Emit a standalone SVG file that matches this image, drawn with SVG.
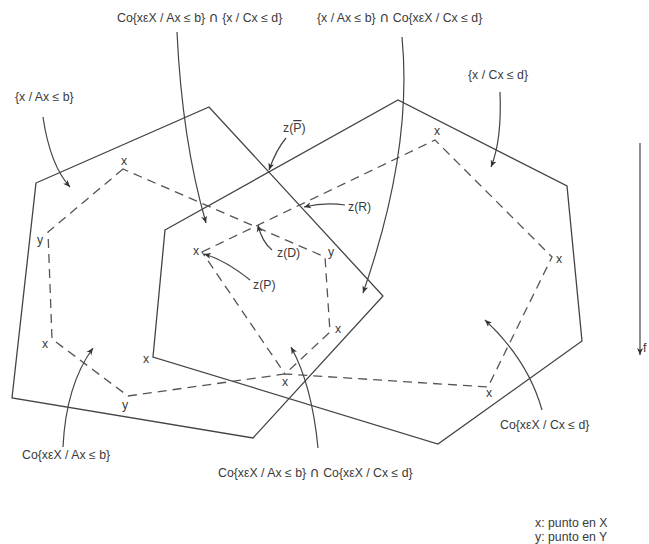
<svg xmlns="http://www.w3.org/2000/svg" width="649" height="544" viewBox="0 0 649 544">
<style>
text{font-family:"Liberation Sans",Arial,sans-serif;font-size:12.3px;fill:#3a3a3a}
.v{text-anchor:middle}
.cap{font-family:"DejaVu Sans",sans-serif;font-size:14px}
.poly{fill:none;stroke:#444;stroke-width:1.3}
.dash{fill:none;stroke:#555;stroke-width:1.3;stroke-dasharray:9,6}
.arr{fill:none;stroke:#444;stroke-width:1.2;marker-end:url(#ah)}
</style>
<defs>
<marker id="ah" markerWidth="8" markerHeight="8" refX="7" refY="4" orient="auto" markerUnits="userSpaceOnUse">
<path d="M0,1 L7,4 L0,7 L2,4 Z" fill="#333"/>
</marker>
</defs>
<rect width="649" height="544" fill="#fff"/>
<g id="setA"><polygon class="poly" points="36,183 209,107 383,296 253,438 12,398"/></g>
<g id="setC"><polygon class="poly" points="165,230 398,100 567,186 582,341 438,444 153,357"/></g>
<g id="hullA"><polygon class="dash" points="123,169 48,232 52,339 128,396 285,374 330,332 325,257"/></g>
<g id="hullC"><polygon class="dash" points="202,252 435,140 552,257 488,387 285,374"/></g>
<g id="points">
<text class="v" x="124" y="165">x</text>
<text class="v" x="40" y="244">y</text>
<text class="v" x="45" y="348">x</text>
<text class="v" x="125" y="409">y</text>
<text class="v" x="285" y="386">x</text>
<text class="v" x="338" y="333">x</text>
<text class="v" x="331" y="256">y</text>
<text class="v" x="196" y="255">x</text>
<text class="v" x="437" y="135">x</text>
<text class="v" x="559" y="263">x</text>
<text class="v" x="489" y="397">x</text>
<text class="v" x="146" y="363">x</text>
</g>
<g id="connectors">
<path class="arr" d="M43,117 Q50,165 70,187"/>
<path class="arr" d="M177,32 Q182,140 206,223"/>
<path class="arr" d="M402,37 C410,120 392,210 363,293"/>
<path class="arr" d="M500,92 Q502,140 491,167"/>
<path class="arr" d="M286,138 Q276,150 269,170"/>
<path class="arr" d="M345,205 Q325,202 304,207"/>
<path class="arr" d="M272,250 Q262,242 258,225"/>
<path class="arr" d="M250,280 Q225,260 204,254"/>
<path class="arr" d="M63,447 Q66,385 93,348"/>
<path class="arr" d="M318,448 Q312,385 291,347"/>
<path class="arr" d="M542,410 Q528,360 485,320"/>
<path class="arr" d="M640,143 L640,355"/>
</g>
<g id="labels">
<text x="117" y="22">Co{xεX / Ax ≤ b} <tspan class="cap">∩</tspan> {x / Cx ≤ d}</text>
<text x="317" y="22">{x / Ax ≤ b} <tspan class="cap">∩</tspan> Co{xεX / Cx ≤ d}</text>
<text x="15" y="101">{x / Ax ≤ b}</text>
<text x="468" y="79">{x / Cx ≤ d}</text>
<text x="283" y="132">z(<tspan text-decoration="overline">P</tspan>)</text>
<text x="348" y="211">z(R)</text>
<text x="277" y="257">z(D)</text>
<text x="253" y="289">z(P)</text>
<text x="22" y="459">Co{xεX / Ax ≤ b}</text>
<text x="218" y="477">Co{xεX / Ax ≤ b} <tspan class="cap">∩</tspan> Co{xεX / Cx ≤ d}</text>
<text x="500" y="429">Co{xεX / Cx ≤ d}</text>
<text x="643" y="352">f</text>
<text x="535" y="527">x: punto en X</text>
<text x="535" y="541">y: punto en Y</text>
</g>
</svg>
